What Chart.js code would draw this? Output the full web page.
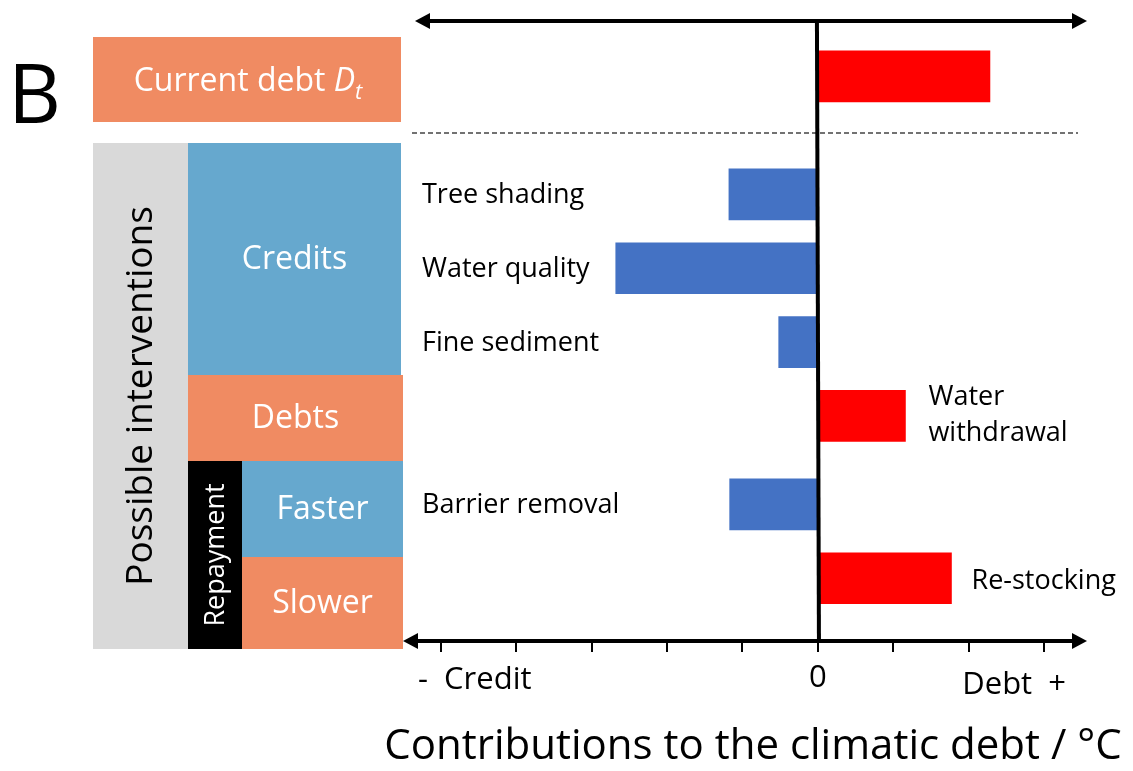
<!DOCTYPE html>
<html>
<head>
<meta charset="utf-8">
<script src="https://cdn.jsdelivr.net/npm/chart.js@4.4.1/dist/chart.umd.min.js"></script>
<style>
  body { margin: 0; background: #ffffff; }
  #wrap { width: 1133px; height: 771px; position: relative; }
</style>
</head>
<body>
<div id="wrap"><canvas id="debt"></canvas></div>
<script>
// data (units of one axis tick)
const interventions = ["Current debt", "Tree shading", "Water quality", "Fine sediment", "Water withdrawal", "Barrier removal", "Re-stocking"];
const contributions = [2.28, -1.18, -2.68, -0.52, 1.16, -1.17, 1.77];
const axisTicks = [-5, -4, -3, -2, -1, 0, 1, 2, 3];
const axisWords = ["-  Credit", "0", "Debt  +"];

// layout: which thin row slot each bar sits in (rows are not evenly spaced)
const slotCount = 84;
const rowSlot = [7, 23, 33, 43, 53, 65, 75];
const labelSide = ["none", "left", "left", "left", "right", "left", "right"];

var slotLabels = [];
var slotValues = [];
for (var i = 0; i < slotCount; i++) {
    slotLabels.push("");
    slotValues.push(null);
}
rowSlot.forEach((s, k) => {
    slotLabels[s] = interventions[k];
    slotValues[s] = contributions[k];
});

const FONT = "'Open Sans', 'DejaVu Sans', sans-serif";
const SALMON = "#F08B62";
const BLUE_BOX = "#66A8CE";

function arrowLine(ctx, x1, x2, y) {
    ctx.save();
    ctx.strokeStyle = "#000";
    ctx.fillStyle = "#000";
    ctx.lineWidth = 4;
    ctx.beginPath();
    ctx.moveTo(x1 + 10, y);
    ctx.lineTo(x2 - 10, y);
    ctx.stroke();
    // heads
    ctx.beginPath();
    ctx.moveTo(x1, y);
    ctx.lineTo(x1 + 15, y - 8);
    ctx.lineTo(x1 + 15, y + 8);
    ctx.closePath();
    ctx.fill();
    ctx.beginPath();
    ctx.moveTo(x2, y);
    ctx.lineTo(x2 - 15, y - 8);
    ctx.lineTo(x2 - 15, y + 8);
    ctx.closePath();
    ctx.fill();
    ctx.restore();
}

function box(ctx, x, y, w, h, color, text, size, rotate) {
    ctx.save();
    ctx.fillStyle = color;
    ctx.fillRect(x, y, w, h);
    if (text) {
        ctx.fillStyle = color == "#D9D9D9" ? "#000" : "#fff";
        ctx.font = size + "px " + FONT;
        ctx.textAlign = "center";
        ctx.textBaseline = "middle";
        ctx.translate(x + w / 2, y + h / 2);
        if (rotate) ctx.rotate(-Math.PI / 2);
        ctx.fillText(text, 0, 1);
    }
    ctx.restore();
}

const decor = {
    id: "decor",
    afterDatasetsDraw(chart) {
        const ctx = chart.ctx;
        const area = chart.chartArea;
        const xs = chart.scales.x;
        const x0 = xs.getPixelForValue(0);

        // dashed separator under the current debt
        ctx.save();
        ctx.strokeStyle = "#444";
        ctx.lineWidth = 1.3;
        ctx.setLineDash([5, 3]);
        ctx.beginPath();
        ctx.moveTo(area.left + 9, 133);
        ctx.lineTo(area.right - 7, 133);
        ctx.stroke();
        ctx.restore();

        // zero line
        ctx.save();
        ctx.strokeStyle = "#000";
        ctx.lineWidth = 4;
        ctx.beginPath();
        ctx.moveTo(x0 - 1, area.top);
        ctx.lineTo(x0 + 1, area.bottom);
        ctx.stroke();
        ctx.restore();

        arrowLine(ctx, area.left + 12, area.right + 2, area.top);
        arrowLine(ctx, area.left, area.right + 2, area.bottom);

        // bar labels
        const meta = chart.getDatasetMeta(0);
        ctx.save();
        ctx.fillStyle = "#000";
        ctx.font = "27px " + FONT;
        ctx.textBaseline = "middle";
        rowSlot.forEach((s, k) => {
            const bar = meta.data[s];
            const name = interventions[k];
            if (labelSide[k] == "left") {
                ctx.textAlign = "left";
                ctx.fillText(name, area.left + 19, bar.y + 1);
            } else if (labelSide[k] == "right") {
                ctx.textAlign = "left";
                const parts = name.split(" ");
                if (parts.length > 1 && name.length > 12) {
                    ctx.fillText(parts[0], bar.x + 23, bar.y - 19);
                    ctx.fillText(parts[1], bar.x + 23, bar.y + 17);
                } else {
                    ctx.fillText(name, bar.x + 20, bar.y + 3);
                }
            }
        });

        // words under the axis
        ctx.font = "31px " + FONT;
        ctx.textAlign = "left";
        ctx.fillText(axisWords[0], area.left + 15, 680);
        ctx.textAlign = "center";
        ctx.fillText(axisWords[1], x0, 678);
        ctx.textAlign = "right";
        ctx.fillText(axisWords[2], area.right - 19, 685);

        // axis title
        ctx.font = "42px " + FONT;
        ctx.textAlign = "center";
        ctx.fillText("Contributions to the climatic debt / °C", 753, 747);

        // panel letter
        ctx.font = "82px " + FONT;
        ctx.textAlign = "left";
        ctx.fillText("B", 8, 100);
        ctx.restore();

        // left side boxes
        box(ctx, 93, 37, 308, 85, SALMON, null, 0, false);
        ctx.save();
        ctx.fillStyle = "#fff";
        ctx.textBaseline = "alphabetic";
        ctx.textAlign = "left";
        ctx.font = "32px " + FONT;
        const w1 = ctx.measureText("Current debt ").width;
        ctx.font = "italic 32px " + FONT;
        const w2 = ctx.measureText("D").width;
        ctx.font = "italic 22px " + FONT;
        const w3 = ctx.measureText("t").width;
        let tx = 248 - (w1 + w2 + w3) / 2;
        ctx.font = "32px " + FONT;
        ctx.fillText("Current debt ", tx, 91);
        ctx.font = "italic 32px " + FONT;
        ctx.fillText("D", tx + w1, 91);
        ctx.font = "italic 22px " + FONT;
        ctx.fillText("t", tx + w1 + w2, 99);
        ctx.restore();

        box(ctx, 93, 143, 95, 506, "#D9D9D9", "Possible interventions", 37, true);
        box(ctx, 188, 143, 213, 232, BLUE_BOX, "Credits", 32, false);
        box(ctx, 188, 375, 215, 86, SALMON, "Debts", 32, false);
        box(ctx, 188, 461, 54, 188, "#000000", "Repayment", 27, true);
        box(ctx, 242, 461, 161, 96, BLUE_BOX, "Faster", 32, false);
        box(ctx, 242, 557, 161, 92, SALMON, "Slower", 32, false);
    }
};

new Chart(document.getElementById("debt").getContext("2d"), {
    type: "bar",
    data: {
        labels: slotLabels,
        datasets: [
            {
                label: "Contribution",
                data: slotValues,
                backgroundColor: (c) => (c.raw > 0 ? "#FF0000" : "#4472C4"),
                barThickness: 51,
                borderWidth: 0
            }
        ]
    },
    options: {
        indexAxis: "y",
        responsive: true,
        maintainAspectRatio: false,
        animation: false,
        layout: {
            padding: { left: 403, right: 48, top: 21, bottom: 0 }
        },
        plugins: {
            legend: { display: false },
            tooltip: { enabled: false }
        },
        scales: {
            x: {
                type: "linear",
                min: -5.5,
                max: 3.54,
                afterBuildTicks: (scale) => {
                    scale.ticks = axisTicks.map((v) => ({ value: v }));
                },
                afterFit: (scale) => {
                    scale.height = 130;
                },
                ticks: { display: false },
                border: { display: false },
                grid: {
                    drawOnChartArea: false,
                    drawTicks: true,
                    tickLength: 11,
                    color: "#000",
                    lineWidth: 2
                }
            },
            y: {
                display: false
            }
        }
    },
    plugins: [decor]
});
</script>
</body>
</html>
